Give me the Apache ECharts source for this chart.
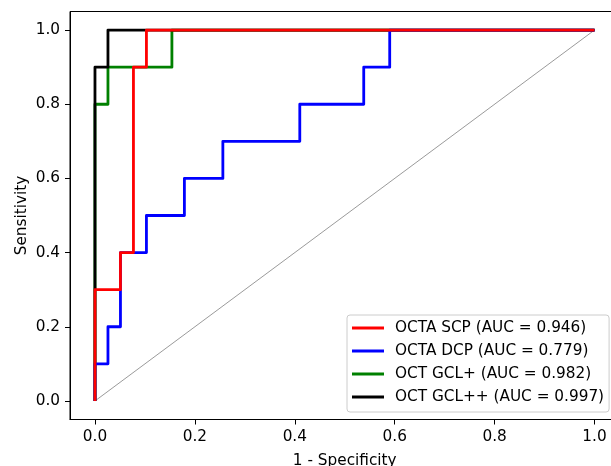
<!DOCTYPE html>
<html>
<head>
<meta charset="utf-8">
<script src="https://cdn.jsdelivr.net/npm/echarts@6/dist/echarts.min.js"></script>
<style>
  html, body { margin: 0; padding: 0; background: #fff; }
  #chart { width: 611px; height: 466px; }
</style>
</head>
<body>
<div id="chart"></div>
<script>
// ROC curves: [1 - specificity, sensitivity] step points
const scpFpr = [0, 0, 0.051, 0.051, 0.077, 0.077, 0.103, 0.103, 1];
const scpTpr = [0, 0.3, 0.3, 0.4, 0.4, 0.9, 0.9, 1, 1];

const dcpFpr = [0, 0, 0.026, 0.026, 0.051, 0.051, 0.103, 0.103, 0.179, 0.179,
                0.256, 0.256, 0.410, 0.410, 0.538, 0.538, 0.590, 0.590, 1];
const dcpTpr = [0, 0.1, 0.1, 0.2, 0.2, 0.4, 0.4, 0.5, 0.5, 0.6,
                0.6, 0.7, 0.7, 0.8, 0.8, 0.9, 0.9, 1, 1];

const gclFpr = [0, 0, 0.026, 0.026, 0.154, 0.154, 1];
const gclTpr = [0, 0.8, 0.8, 0.9, 0.9, 1, 1];

const gcl2Fpr = [0, 0, 0.026, 0.026, 1];
const gcl2Tpr = [0, 0.9, 0.9, 1, 1];

const chanceLine = [[0, 0], [1, 1]];

const seriesNames = [
    'OCTA SCP (AUC = 0.946)',
    'OCTA DCP (AUC = 0.779)',
    'OCT GCL+ (AUC = 0.982)',
    'OCT GCL++ (AUC = 0.997)'
];
const seriesColors = ['#ff0000', '#0000ff', '#008000', '#000000'];
const tickValues = [0, 0.2, 0.4, 0.6, 0.8, 1.0];

const FONT = 'DejaVu Sans';
const FS = 15.3;

function pairs(xs, ys) {
    return xs.map((x, i) => [x, ys[i]]);
}

function rocSeries(idx, xs, ys) {
    return {
        name: seriesNames[idx],
        type: 'line',
        data: pairs(xs, ys),
        showSymbol: false,
        symbol: 'none',
        color: seriesColors[idx],
        lineStyle: {color: seriesColors[idx], width: 2.8, join: 'round'},
        silent: true
    };
}

const chart = echarts.init(document.getElementById('chart'), null, {renderer: 'canvas'});

chart.setOption({
    animation: false,
    backgroundColor: '#ffffff',
    textStyle: {fontFamily: FONT},
    grid: {
        left: 70, top: 11.5, width: 549.5, height: 408,
        outerBoundsMode: 'none',
        containLabel: false,
        show: true, borderColor: '#000', borderWidth: 1, backgroundColor: 'transparent'
    },
    xAxis: {
        type: 'value',
        min: -0.05, max: 1.05,
        name: '1 - Specificity',
        nameLocation: 'middle',
        nameGap: 34,
        nameMoveOverlap: false,
        nameTextStyle: {fontFamily: FONT, fontSize: FS, color: '#000'},
        axisLine: {show: true, onZero: false, lineStyle: {color: '#000', width: 1}},
        axisTick: {show: true, length: 5, customValues: tickValues, lineStyle: {color: '#000'}},
        axisLabel: {
            customValues: tickValues, margin: 10,
            fontFamily: FONT, fontSize: FS, color: '#000',
            formatter: v => v.toFixed(1)
        },
        splitLine: {show: false}
    },
    yAxis: {
        type: 'value',
        min: -0.05, max: 1.05,
        name: 'Sensitivity',
        nameLocation: 'middle',
        nameRotate: 90,
        nameGap: 40,
        nameMoveOverlap: false,
        nameTextStyle: {fontFamily: FONT, fontSize: FS, color: '#000'},
        axisLine: {show: true, onZero: false, lineStyle: {color: '#000', width: 1}},
        axisTick: {show: true, length: 5, customValues: tickValues, lineStyle: {color: '#000'}},
        axisLabel: {
            customValues: tickValues, margin: 10,
            fontFamily: FONT, fontSize: FS, color: '#000',
            formatter: v => v.toFixed(1)
        },
        splitLine: {show: false}
    },
    legend: {
        data: seriesNames,
        orient: 'vertical',
        left: 347, top: 315,
        padding: [4.5, 5, 6.5, 5],
        itemGap: 6,
        itemWidth: 32,
        itemHeight: 3,
        icon: 'rect',
        backgroundColor: 'rgba(255,255,255,0.8)',
        borderColor: '#cccccc',
        borderWidth: 1,
        borderRadius: 3,
        selectedMode: false,
        textStyle: {fontFamily: FONT, fontSize: FS, color: '#000', lineHeight: 17, padding: [0, 0, 0, 6]}
    },
    series: [
        {
            type: 'line',
            data: chanceLine,
            showSymbol: false,
            symbol: 'none',
            lineStyle: {color: '#808080', width: 0.8},
            silent: true
        },
        rocSeries(2, gclFpr, gclTpr),
        rocSeries(3, gcl2Fpr, gcl2Tpr),
        rocSeries(1, dcpFpr, dcpTpr),
        rocSeries(0, scpFpr, scpTpr)
    ]
});
</script>
</body>
</html>
